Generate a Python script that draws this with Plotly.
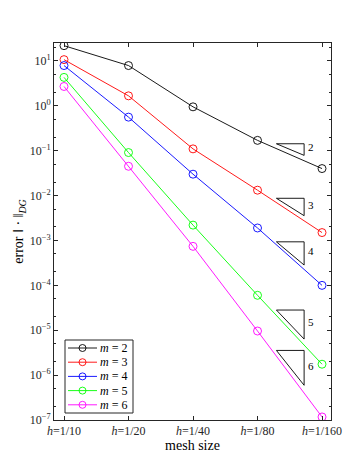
import plotly.graph_objects as go
import numpy as np

# mesh refinement: h = 1/N
N = [10, 20, 40, 80, 160]
x_labels = ["<i>h</i>=1/10", "<i>h</i>=1/20", "<i>h</i>=1/40", "<i>h</i>=1/80", "<i>h</i>=1/160"]

# DG-norm errors per polynomial degree m
err_m2 = [21.9, 7.9, 0.95, 0.17, 0.040]
err_m3 = [10.7, 1.67, 0.11, 0.0132, 0.0015]
err_m4 = [7.9, 0.56, 0.030, 0.0019, 1.0e-4]
err_m5 = [4.3, 0.091, 0.0022, 6.0e-5, 1.75e-6]
err_m6 = [2.7, 0.045, 7.4e-4, 9.6e-6, 1.17e-7]

degrees = [2, 3, 4, 5, 6]
colors = ["#000000", "#ff0000", "#0000ff", "#00ff00", "#ff00ff"]
errors = [err_m2, err_m3, err_m4, err_m5, err_m6]

# slope triangles: order and top-edge height (log10 of error)
tri_slopes = [2, 3, 4, 5, 6]
tri_top_log = [-0.845, -2.06, -3.03, -4.55, -5.45]
tri_x = [98, 132]

FONT = "Liberation Serif"
W, H = 357, 464
ML, MR, MT, MB = 46, 34, 35, 52
PW, PH = W - ML - MR, H - MT - MB


def px2paper(px, py):
    return (px - ML) / PW, (H - MB - py) / PH


fig = go.Figure()

for m, c, e in zip(degrees, colors, errors):
    fig.add_trace(go.Scatter(
        x=N, y=e, mode="lines+markers",
        name=f"m = {m}", showlegend=False,
        line=dict(color=c, width=0.9),
        marker=dict(symbol="circle-open", size=8, color=c, line=dict(width=0.9)),
    ))

# slope triangles
lx0, lx1 = np.log10(tri_x[0]), np.log10(tri_x[1])
w = lx1 - lx0
for s, top in zip(tri_slopes, tri_top_log):
    bot = top - s * w
    fig.add_trace(go.Scatter(
        x=[tri_x[0], tri_x[1], tri_x[1], tri_x[0]],
        y=[10 ** top, 10 ** top, 10 ** bot, 10 ** top],
        mode="lines", line=dict(color="#000000", width=0.9),
        showlegend=False, hoverinfo="skip",
    ))
    fig.add_annotation(
        x=lx1, y=(top + bot) / 2 + 0.05, xref="x", yref="y",
        text=str(s), showarrow=False, xanchor="left", xshift=2,
        font=dict(family=FONT, size=11, color="#000000"),
    )

# compact legend box (MATLAB style)
bx0, by0 = px2paper(57, 405)
bx1, by1 = px2paper(125, 332)
fig.add_shape(type="rect", xref="paper", yref="paper", x0=bx0, y0=by0, x1=bx1, y1=by1,
              line=dict(color="#262626", width=1), fillcolor="white", layer="above")
for i, (m, c) in enumerate(zip(degrees, colors)):
    py = 340 + i * 14.2
    lx_a, ly = px2paper(60, py)
    lx_b, _ = px2paper(89, py)
    mx, _ = px2paper(74.5, py)
    tx, _ = px2paper(90, py)
    fig.add_shape(type="line", xref="paper", yref="paper", x0=lx_a, x1=lx_b, y0=ly, y1=ly,
                  line=dict(color=c, width=0.9), layer="above")
    fig.add_shape(type="circle", xref="paper", yref="paper", xsizemode="pixel", ysizemode="pixel",
                  xanchor=mx, yanchor=ly, x0=-3.5, x1=3.5, y0=-3.5, y1=3.5,
                  line=dict(color=c, width=0.9), layer="above")
    fig.add_annotation(x=tx, y=ly, xref="paper", yref="paper", text=f"<i>m</i> = {m}",
                       showarrow=False, xanchor="left", yanchor="middle",
                       font=dict(family=FONT, size=12, color="#000000"))

ytick_vals = [10.0 ** k for k in range(-7, 2)]
ytick_text = [f"10<sup>{str(k).replace('-', '−')}</sup>" for k in range(-7, 2)]

fig.update_layout(
    width=W, height=H,
    margin=dict(l=ML, r=MR, t=MT, b=MB),
    paper_bgcolor="white", plot_bgcolor="white",
    font=dict(family=FONT, size=12, color="#262626"),
    showlegend=False,
)

fig.update_xaxes(
    type="log", range=[0.9533, 2.246], automargin=False,
    tickvals=N, ticktext=x_labels, tickfont=dict(family=FONT, size=12, color="#262626"),
    ticks="inside", ticklen=4, tickcolor="#262626",
    showline=True, linecolor="#262626", linewidth=1, mirror="ticks",
    showgrid=False, zeroline=False,
    title=dict(text="mesh size", font=dict(family=FONT, size=14, color="#000000"), standoff=2),
)
fig.update_yaxes(
    type="log", range=[-7, 1.4], automargin=False,
    tickvals=ytick_vals, ticktext=ytick_text, tickfont=dict(family=FONT, size=12, color="#262626"),
    ticks="inside", ticklen=4, tickcolor="#262626",
    minor=dict(ticks="inside", ticklen=2, tickcolor="#262626", showgrid=False),
    showline=True, linecolor="#262626", linewidth=1, mirror="ticks",
    showgrid=False, zeroline=False,
    title=dict(text="error ‖ · ‖<sub><i>DG</i></sub>", font=dict(family=FONT, size=14, color="#000000"), standoff=2),
)

fig.write_html("out.html")
